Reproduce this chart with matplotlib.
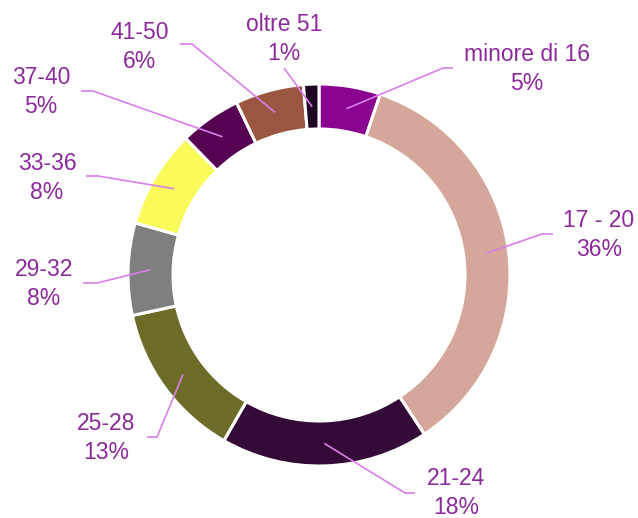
import numpy as np
import matplotlib
matplotlib.use("Agg")
import matplotlib.pyplot as plt

# age groups, clockwise from the top
labels = ["minore di 16", "17 - 20", "21-24", "25-28", "29-32",
          "33-36", "37-40", "41-50", "oltre 51"]
values = [5.2, 35.5, 17.6, 13.3, 7.8, 8.3, 5.2, 5.8, 1.3]
pct_text = ["5%", "36%", "18%", "13%", "8%", "8%", "5%", "6%", "1%"]
colors = ["#8a0290", "#d5a79a", "#340b37", "#6d6b28", "#7f7f7f",
          "#fafa5a", "#560152", "#9a5640", "#1e0622"]

W, H = 638, 518
cx, cy, R, ring = 319, 275, 191, 45   # pixel layout of the doughnut

# label centre (x, y) and leader start / elbow points, in image pixels
text_pos = [(527, 69), (599, 235), (456, 493), (106, 438), (44, 284),
            (47, 178), (41, 92), (140, 47), (284, 39)]
leader_start = [(453, 68), (553, 234), (415, 493), (147, 437), (83, 283),
                (86, 176), (81, 91), (180, 44), (284, 68)]
leader_elbow = [(443, 68), (542, 234), (405, 493), (157, 437), (97, 283),
                (98, 176), (93, 91), (192, 44), (284, 68)]

txt_color = "#8c2a9b"
line_color = "#d97fe9"

fig = plt.figure(figsize=(W / 100, H / 100), dpi=100)
ax = fig.add_axes([0, 0, 1, 1])

wedges, _ = ax.pie(values, colors=colors, startangle=90, counterclock=False,
                   radius=R, center=(cx, H - cy),
                   wedgeprops=dict(width=ring, edgecolor="white", linewidth=2.2))

ax.set_xlim(0, W)
ax.set_ylim(0, H)
ax.set_aspect("equal")
ax.axis("off")

r_mid = R - ring / 2
for i, w in enumerate(wedges):
    mid = np.deg2rad((w.theta1 + w.theta2) / 2)
    ax_x = cx + r_mid * np.cos(mid)
    ax_y = (H - cy) + r_mid * np.sin(mid)
    sx, sy = leader_start[i]
    ex, ey = leader_elbow[i]
    ax.plot([sx, ex, ax_x], [H - sy, H - ey, ax_y], color=line_color,
            lw=1.2, solid_capstyle="butt", zorder=3)
    tx, ty = text_pos[i]
    ax.text(tx, H - ty, labels[i] + "\n" + pct_text[i], ha="center",
            va="center", fontsize=16.5, color=txt_color,
            family="Liberation Sans", linespacing=1.3)

fig.savefig("out.png", dpi=100)
